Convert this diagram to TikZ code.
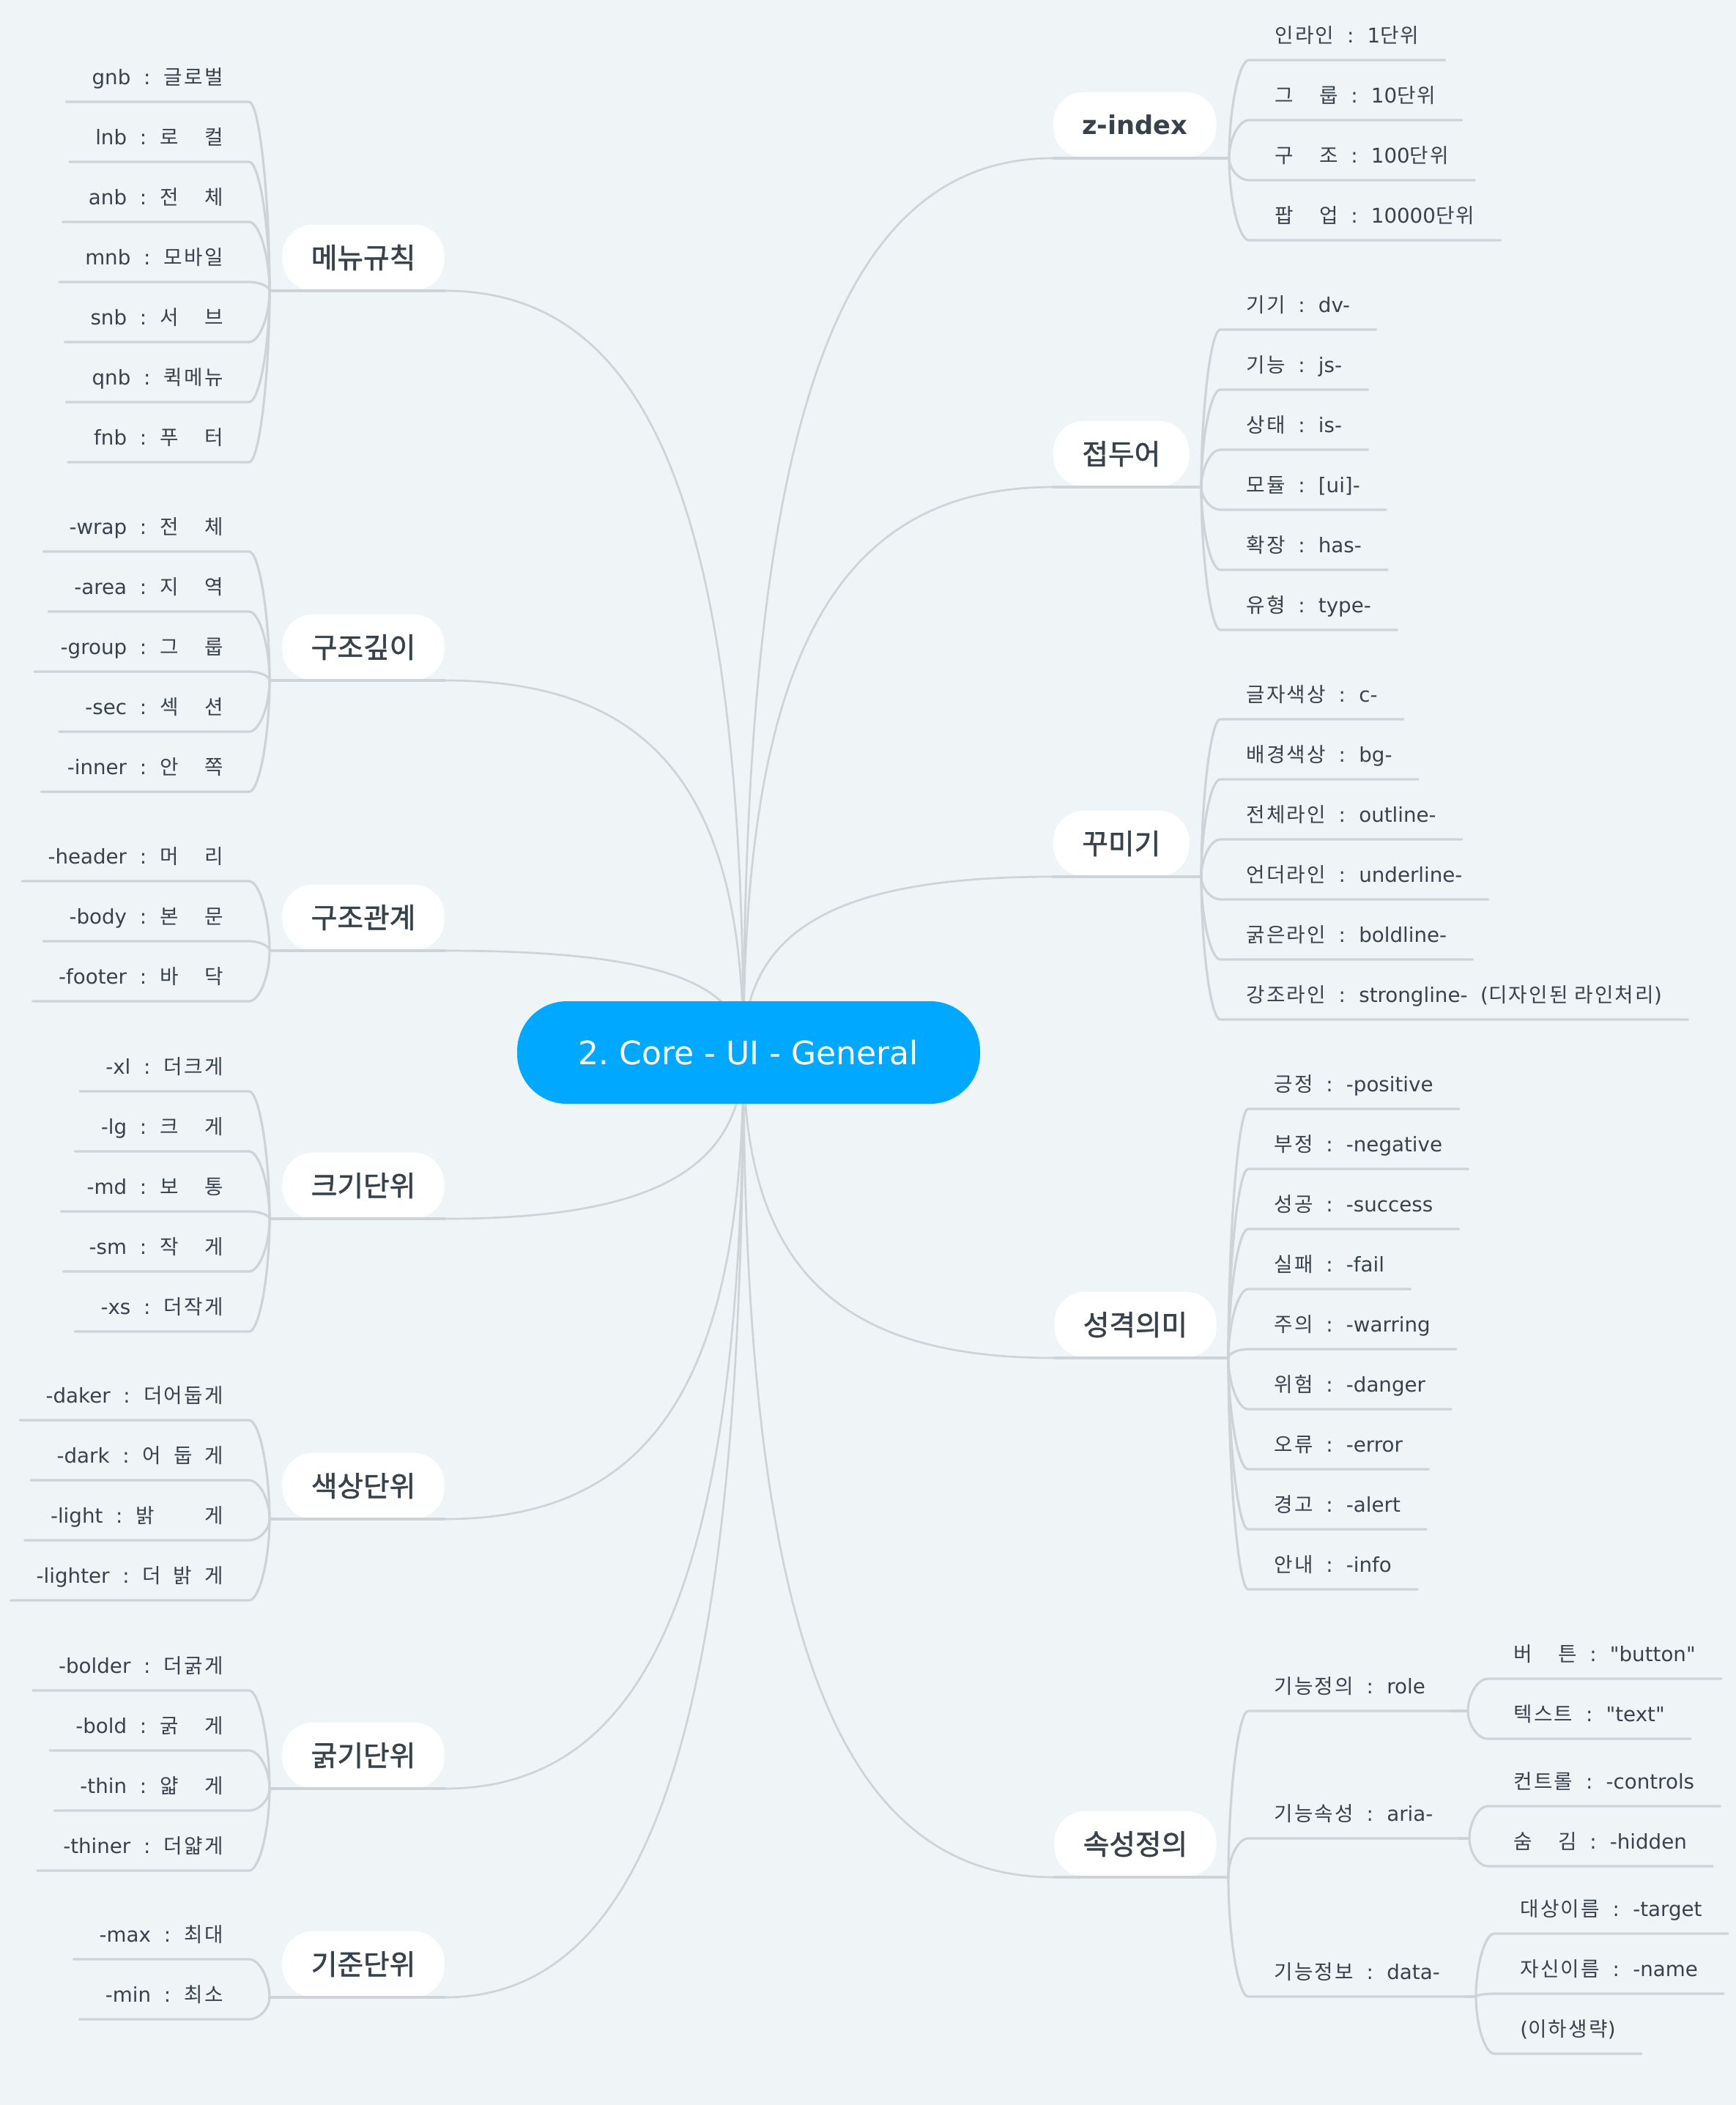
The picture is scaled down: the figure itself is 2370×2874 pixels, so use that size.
\documentclass[tikz,border=0pt]{standalone}
\usepackage{fontspec}
\setmainfont{DejaVu Sans}[Ligatures=TeXOff]
\newfontfamily\krfont{Noto Sans CJK KR}[LetterSpace=8]
\newfontfamily\krpillfont{Noto Sans CJK KR}[Scale=1.1, FakeBold=1.5]
\newif\ifkrpill
\usetikzlibrary{calc}
\frenchspacing
\XeTeXinterchartokenstate=1
\newXeTeXintercharclass\KRclass
\newcount\krcnt
\krcnt="AC00
\loop
  \XeTeXcharclass\krcnt=\KRclass
  \advance\krcnt by 1
\ifnum\krcnt<"D7A4 \repeat
\XeTeXinterchartoks 0 \KRclass = {\ifkrpill\krpillfont\else\krfont\fi}
\XeTeXinterchartoks 4095 \KRclass = {\ifkrpill\krpillfont\else\krfont\fi}
\XeTeXinterchartoks \KRclass 0 = {\normalfont}
\XeTeXinterchartoks \KRclass 4095 = {\normalfont}

\definecolor{bgc}{HTML}{EFF4F7}
\definecolor{linec}{HTML}{CED3D7}
\definecolor{txt}{HTML}{38424D}
\definecolor{ctr}{HTML}{00A9FF}

\newcommand\csep{\hspace{0.64em}:\hspace{0.66em}}
\newcommand\kgap{\hspace{1.27em}}
\newcommand\sgap{\hspace{0.6em}}

\pgfdeclarelayer{back}
\pgfdeclarelayer{fore}
\pgfsetlayers{back,main,fore}

\tikzset{
  conn/.style={draw=linec, line width=1.6pt, line cap=round},
  mainconn/.style={draw=linec, line width=1.35pt, line cap=round},
  leaf/.style={inner xsep=17.5pt, inner ysep=0pt, text height=11pt, text depth=11.5pt, text=txt,
    font=\fontsize{13.85pt}{16pt}\selectfont},
  pill/.style={fill=white, rounded corners=21pt, minimum height=45pt, inner xsep=19.7pt, inner ysep=0pt,
    text=txt, font=\krpilltrue\fontsize{17.6pt}{20pt}\selectfont},
  core/.style={fill=ctr, rounded corners=34pt, minimum width=316pt, minimum height=70pt,
    text=white, font=\fontsize{22pt}{26pt}\selectfont}
}

% left branch: name, underline y, text
\newcommand\branchL[3]{%
  \coordinate (#1J) at (368,#2);
  \node[pill, anchor=south west] (#1) at (385,#2) {#3};
  \coordinate (#1K) at (C0 |- #1J);
  \draw[conn] (#1J) -- (#1.south east);
  \draw[mainconn] (#1.south east) .. controls ($(#1.south east)!0.7!(#1K)$) and ($(C0)!0.7!(#1K)$) .. (C0);
}
% left leaf: parent junction, name, y, text
\newcommand\leafL[4]{%
  \node[leaf, anchor=south east] (#2) at (340,#3) {#4};
  \coordinate (#2K) at (#1 |- #2.south east);
  \draw[conn] (#1) .. controls ($(#1)!0.5!(#2K)$) and ($(#2.south east)!0.5!(#2K)$) .. (#2.south east) -- (#2.south west);
}
% right branch: name, pill east x, underline y, junction x, text
\newcommand\branchR[5]{%
  \coordinate (#1J) at (#4,#3);
  \node[pill, anchor=south east] (#1) at (#2,#3) {#5};
  \coordinate (#1K) at (C0 |- #1J);
  \draw[mainconn] (C0) .. controls ($(C0)!0.7!(#1K)$) and ($(#1.south west)!0.7!(#1K)$) .. (#1.south west);
  \draw[conn] (#1.south west) -- (#1J);
}
% right leaf: parent junction, name, x, y, text
\newcommand\leafR[5]{%
  \node[leaf, anchor=south west] (#2) at (#3,#4) {#5};
  \coordinate (#2K) at (#1 |- #2.south west);
  \draw[conn] (#1) .. controls ($(#1)!0.5!(#2K)$) and ($(#2.south west)!0.5!(#2K)$) .. (#2.south west) -- (#2.south east);
}

\begin{document}
\begin{tikzpicture}[x=0.5pt,y=-0.5pt]
\begin{pgfonlayer}{back}
  \fill[bgc] (0,0) rectangle (2370,2874);
\end{pgfonlayer}
\useasboundingbox (0,0) rectangle (2370,2874);

\begin{pgfonlayer}{fore}
  \node[core] (core) at (1022,1437) {2. Core - UI - General};
\end{pgfonlayer}
\coordinate (C0) at ($(core.center)+(-7,0)$);

% ---------------- left side ----------------
\branchL{b1}{397}{메뉴규칙}
\leafL{b1J}{l11}{139}{gnb\csep 글로벌}
\leafL{b1J}{l12}{221}{lnb\csep 로\kgap 컬}
\leafL{b1J}{l13}{303}{anb\csep 전\kgap 체}
\leafL{b1J}{l14}{385}{mnb\csep 모바일}
\leafL{b1J}{l15}{467}{snb\csep 서\kgap 브}
\leafL{b1J}{l16}{549}{qnb\csep 퀵메뉴}
\leafL{b1J}{l17}{631}{fnb\csep 푸\kgap 터}

\branchL{b2}{929}{구조깊이}
\leafL{b2J}{l21}{753}{-wrap\csep 전\kgap 체}
\leafL{b2J}{l22}{835}{-area\csep 지\kgap 역}
\leafL{b2J}{l23}{917}{-group\csep 그\kgap 룹}
\leafL{b2J}{l24}{999}{-sec\csep 섹\kgap 션}
\leafL{b2J}{l25}{1081}{-inner\csep 안\kgap 쪽}

\branchL{b3}{1298}{구조관계}
\leafL{b3J}{l31}{1203}{-header\csep 머\kgap 리}
\leafL{b3J}{l32}{1285}{-body\csep 본\kgap 문}
\leafL{b3J}{l33}{1367}{-footer\csep 바\kgap 닥}

\branchL{b4}{1664}{크기단위}
\leafL{b4J}{l41}{1490}{-xl\csep 더크게}
\leafL{b4J}{l42}{1572}{-lg\csep 크\kgap 게}
\leafL{b4J}{l43}{1654}{-md\csep 보\kgap 통}
\leafL{b4J}{l44}{1736}{-sm\csep 작\kgap 게}
\leafL{b4J}{l45}{1818}{-xs\csep 더작게}

\branchL{b5}{2074}{색상단위}
\leafL{b5J}{l51}{1939}{-daker\csep 더어둡게}
\leafL{b5J}{l52}{2021}{-dark\csep 어\sgap 둡\sgap 게}
\leafL{b5J}{l53}{2103}{-light\csep 밝\hspace{2.45em}게}
\leafL{b5J}{l54}{2185}{-lighter\csep 더\sgap 밝\sgap 게}

\branchL{b6}{2442}{굵기단위}
\leafL{b6J}{l61}{2308}{-bolder\csep 더굵게}
\leafL{b6J}{l62}{2390}{-bold\csep 굵\kgap 게}
\leafL{b6J}{l63}{2472}{-thin\csep 얇\kgap 게}
\leafL{b6J}{l64}{2554}{-thiner\csep 더얇게}

\branchL{b7}{2727}{기준단위}
\leafL{b7J}{l71}{2675}{-max\csep 최대}
\leafL{b7J}{l72}{2757}{-min\csep 최소}

% ---------------- right side ----------------
\branchR{r1}{1661}{216}{1678}{\bfseries z-index}
\leafR{r1J}{m11}{1705}{82}{인라인\csep 1단위}
\leafR{r1J}{m12}{1705}{164}{그\kgap 룹\csep 10단위}
\leafR{r1J}{m13}{1705}{246}{구\kgap 조\csep 100단위}
\leafR{r1J}{m14}{1705}{328}{팝\kgap 업\csep 10000단위}

\branchR{r2}{1624}{665}{1640}{접두어}
\leafR{r2J}{m21}{1666}{450}{기기\csep dv-}
\leafR{r2J}{m22}{1666}{532}{기능\csep js-}
\leafR{r2J}{m23}{1666}{614}{상태\csep is-}
\leafR{r2J}{m24}{1666}{696}{모듈\csep [ui]-}
\leafR{r2J}{m25}{1666}{778}{확장\csep has-}
\leafR{r2J}{m26}{1666}{860}{유형\csep type-}

\branchR{r3}{1624}{1197}{1640}{꾸미기}
\leafR{r3J}{m31}{1666}{982}{글자색상\csep c-}
\leafR{r3J}{m32}{1666}{1064}{배경색상\csep bg-}
\leafR{r3J}{m33}{1666}{1146}{전체라인\csep outline-}
\leafR{r3J}{m34}{1666}{1228}{언더라인\csep underline-}
\leafR{r3J}{m35}{1666}{1310}{굵은라인\csep boldline-}
\leafR{r3J}{m36}{1666}{1392}{강조라인\csep strongline-\hspace{0.64em}(디자인된 라인처리)}

\branchR{r4}{1661}{1854}{1677}{성격의미}
\leafR{r4J}{m41}{1704}{1514}{긍정\csep -positive}
\leafR{r4J}{m42}{1704}{1596}{부정\csep -negative}
\leafR{r4J}{m43}{1704}{1678}{성공\csep -success}
\leafR{r4J}{m44}{1704}{1760}{실패\csep -fail}
\leafR{r4J}{m45}{1704}{1842}{주의\csep -warring}
\leafR{r4J}{m46}{1704}{1924}{위험\csep -danger}
\leafR{r4J}{m47}{1704}{2006}{오류\csep -error}
\leafR{r4J}{m48}{1704}{2088}{경고\csep -alert}
\leafR{r4J}{m49}{1704}{2170}{안내\csep -info}

\branchR{r5}{1661}{2563}{1677}{속성정의}
\leafR{r5J}{role}{1704}{2336}{기능정의\csep role}
\leafR{r5J}{aria}{1704}{2510}{기능속성\csep aria-}
\leafR{r5J}{data}{1704}{2726}{기능정보\csep data-}
\coordinate (roleJ) at (2004,2336);
\coordinate (ariaJ) at (2006,2510);
\coordinate (dataJ) at (2015,2726);
\draw[conn] (role.south east) -- (roleJ);
\draw[conn] (aria.south east) -- (ariaJ);
\draw[conn] (data.south east) -- (dataJ);

\leafR{roleJ}{n11}{2031}{2292}{버\kgap 튼\csep "button"}
\leafR{roleJ}{n12}{2031}{2374}{텍스트\csep "text"}
\leafR{ariaJ}{n21}{2031}{2466}{컨트롤\csep -controls}
\leafR{ariaJ}{n22}{2031}{2548}{숨\kgap 김\csep -hidden}
\leafR{dataJ}{n31}{2040}{2640}{대상이름\csep -target}
\leafR{dataJ}{n32}{2040}{2722}{자신이름\csep -name}
\leafR{dataJ}{n33}{2040}{2804}{(이하생략)}
\end{tikzpicture}
\end{document}
